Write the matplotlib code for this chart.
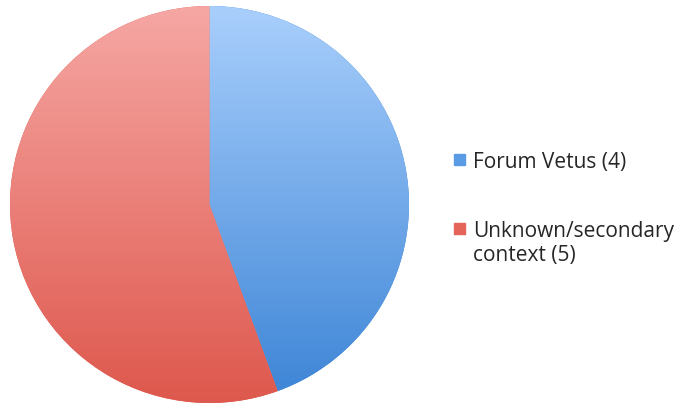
import numpy as np
import matplotlib.pyplot as plt
from matplotlib.colors import LinearSegmentedColormap
from matplotlib.patches import Rectangle

labels = ["Forum Vetus (4)", "Unknown/secondary\ncontext (5)"]
counts = [4, 5]
top_colors = ["#a9cffc", "#f6a7a4"]
bottom_colors = ["#3c84d6", "#de584d"]
legend_colors = ["#5b9be6", "#e4645a"]

W, H = 681, 406
fig = plt.figure(figsize=(W / 100, H / 100), dpi=100)
ax = fig.add_axes([10 / W, 2 / H, 399 / W, 397 / H])

wedges, _ = ax.pie(counts, startangle=90, counterclock=False,
                   colors=bottom_colors, radius=1.0)
ax.set_aspect("auto")
ax.set_xlim(-1.0, 1.0)
ax.set_ylim(-1.0, 1.0)

# vertical gradient fill clipped to each wedge
for w, c_top, c_bot in zip(wedges, top_colors, bottom_colors):
    cmap = LinearSegmentedColormap.from_list("g", [c_bot, c_top])
    grad = np.linspace(0, 1, 256).reshape(-1, 1)
    im = ax.imshow(grad, cmap=cmap, origin="lower", extent=[-1, 1, -1, 1],
                   aspect="auto", zorder=2)
    im.set_clip_path(w)

# legend drawn by hand: square beside the first line of each label
baselines = [168, 237]
line_step = 24
for lab, col, base in zip(labels, legend_colors, baselines):
    fig.patches.append(Rectangle((454 / W, 1 - (base - 2) / H), 11 / W, 11 / H,
                                 transform=fig.transFigure, color=col))
    for i, line in enumerate(lab.split("\n")):
        fig.text(473 / W, 1 - (base + i * line_step) / H, line, ha="left",
                 va="baseline", family="Open Sans", fontsize=15, color="#262626")

fig.savefig("out.png", dpi=100, facecolor="white")
